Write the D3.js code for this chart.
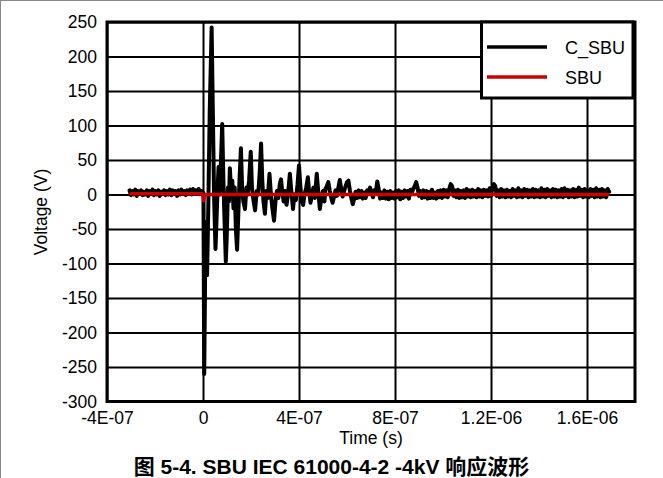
<!DOCTYPE html>
<html><head><meta charset="utf-8">
<script src="https://cdn.jsdelivr.net/npm/d3@7"></script>
<style>
body{margin:0;background:#fff}
text{font-family:"Liberation Sans",Arial,sans-serif;fill:#000}
</style>
</head><body>
<svg id="chart" width="663" height="478"></svg>
<script>
// ---- data ----
const seriesNames = ["C_SBU", "SBU"];
const seriesColors = ["#000000", "#cc0000"];
const xTicks = [-4e-7, 0, 4e-7, 8e-7, 1.2e-6, 1.6e-6];
const xTickLabels = ["-4E-07", "0", "4E-07", "8E-07", "1.2E-06", "1.6E-06"];
const yTicks = [250, 200, 150, 100, 50, 0, -50, -100, -150, -200, -250, -300];

// C_SBU waveform: time (ns) and voltage (V)
const cSbuTimeNs = [
  // pre-trigger
  -306,-300,-294,-288,-282,-276,-270,-264,-258,-252,
  -246,-240,-234,-228,-222,-216,-210,-204,-198,-192,
  -186,-180,-174,-168,-162,-156,-150,-144,-138,-132,
  -126,-120,-114,-108,-102,-96,-90,-84,-78,-72,
  -66,-60,-54,-48,-42,-36,-30,-24,-18,-12,
  -6,
  // discharge
  0,2,5,8,10,13,17,22,28,36,41,46,52,57,61,65,69,73,80,85,90,95,99,104,108,112,117,122,127,132,137,142,147,152,158,
  163,168,175,181,186,192,199,204,209,217,224,230,236,242,247,252,258,264,270,277,283,289,296,302,308,314,320,325,
  330,336,342,348,354,362,368,375,381,387,394,400,405,411,417,423,430,437,442,448,454,460,466,474,480,487,493,500,506,
  // tail
  510,516,522,528,534,540,546,552,558,564,
  570,576,582,588,594,600,606,612,618,624,
  630,636,642,648,654,660,666,672,678,684,
  690,696,702,708,714,720,726,732,738,744,
  750,756,762,768,774,780,786,792,798,804,
  810,816,822,828,834,840,846,852,858,864,
  870,876,882,888,894,900,906,912,918,924,
  930,936,942,948,954,960,966,972,978,984,
  990,996,1002,1008,1014,1020,1026,1032,1038,1044,
  1050,1056,1062,1068,1074,1080,1086,1092,1098,1104,
  1110,1116,1122,1128,1134,1140,1146,1152,1158,1164,
  1170,1176,1182,1188,1194,1200,1206,1212,1218,1224,
  1230,1236,1242,1248,1254,1260,1266,1272,1278,1284,
  1290,1296,1302,1308,1314,1320,1326,1332,1338,1344,
  1350,1356,1362,1368,1374,1380,1386,1392,1398,1404,
  1410,1416,1422,1428,1434,1440,1446,1452,1458,1464,
  1470,1476,1482,1488,1494,1500,1506,1512,1518,1524,
  1530,1536,1542,1548,1554,1560,1566,1572,1578,1584,
  1590,1596,1602,1608,1614,1620,1626,1632,1638,1644,
  1650,1656,1662,1668,1674,1680,1686,1692
];
const cSbuV = [
  // pre-trigger
  6,-1,5,0,7,-2,5,1,6,-1,
  4,0,6,-2,5,1,7,-1,5,0,
  6,-2,4,1,6,-1,5,0,7,-1,
  6,1,5,-2,6,0,7,1,5,-1,
  6,2,7,0,8,1,6,2,8,1,
  5,
  // discharge
  3,2,-260,-150,-40,-90,-117,-20,120,242,120,0,-79,-30,10,40,0,30,102,20,-40,-97,-60,10,-10,38,5,20,-20,10,-50,-80,-30,20,67,
  10,-10,-21,10,0,20,62,10,-5,-23,5,0,30,74,20,-10,-28,5,-5,30,0,-20,-38,-10,5,-5,15,22,
  5,-10,5,-15,0,30,5,-21,0,-8,15,42,15,-10,-15,0,10,25,5,-12,0,10,-5,30,5,-21,-5,5,-10,
  // tail
  8,12,18,6,-4,-12,-3,6,-2,10,
  21,8,-3,5,12,18,20,6,-5,-14,
  -6,4,-5,6,-4,5,-6,3,-5,6,
  4,10,3,-4,6,2,19,8,-6,3,
  -5,6,-6,4,-7,5,-5,3,-6,5,
  -4,6,-7,4,-5,6,-3,5,-6,7,
  3,8,12,18,10,-2,5,-5,6,-4,
  5,-6,4,-5,7,-5,3,-6,5,-4,
  6,-5,7,-3,6,-4,8,15,12,-2,
  6,-4,7,-5,5,-4,6,-5,8,-3,
  6,-4,7,-3,5,-4,8,-3,6,-4,
  7,-2,6,-3,9,-2,10,15,12,-2,
  6,-4,8,-3,6,-4,7,-3,5,-4,
  8,-2,6,-4,9,-3,6,-4,8,-2,
  7,-4,6,-3,8,-4,7,-3,6,-4,
  9,-3,7,-4,8,-2,6,-4,8,-3,
  7,-4,6,-3,8,-4,9,-2,7,-4,
  6,-3,8,-4,7,-3,10,-2,7,-4,
  8,-3,6,-4,8,-2,7,-4,9,-3,
  7,-4,8,-3,6,-4,8,4
];

// SBU waveform
const sbuTimeNs = [-306, -4, 1, 3, 6, 20, 1692];
const sbuV = [1, 1, -3, -9, -1, 0, 0];

// ---- chart ----
const svg = d3.select("#chart");
const L = 107, R = 635, T = 22, B = 401.5;
const x = d3.scaleLinear().domain([-4e-7, 1.8e-6]).range([L, R]);
const y = d3.scaleLinear().domain([-300, 250]).range([B, T]);
const FONT = "Liberation Sans, Arial, sans-serif";

// outer figure border (left/top)
svg.append("line").attr("x1",0.5).attr("y1",0).attr("x2",0.5).attr("y2",478).attr("stroke","#888").attr("stroke-width",1);
svg.append("line").attr("x1",0).attr("y1",0.5).attr("x2",663).attr("y2",0.5).attr("stroke","#888").attr("stroke-width",1);

// y axis with gridlines
const yAxis = svg.append("g").attr("transform", `translate(${L},0)`)
  .call(d3.axisLeft(y).tickValues(yTicks).tickSize(-(R - L)).tickPadding(10).tickFormat(d => String(d)));
yAxis.select(".domain").remove();
yAxis.selectAll("line").attr("stroke", "#000").attr("stroke-width", 2);
yAxis.selectAll("text").attr("font-size", 17.5).attr("font-family", FONT).attr("fill", "#000");

// x axis with gridlines
const xAxis = svg.append("g").attr("transform", `translate(0,${B})`)
  .call(d3.axisBottom(x).tickValues(xTicks).tickSize(-(B - T)).tickPadding(10).tickFormat((d, i) => xTickLabels[i]));
xAxis.select(".domain").remove();
xAxis.selectAll("line").attr("stroke", "#000").attr("stroke-width", 2);
xAxis.selectAll("text").attr("font-size", 17.5).attr("font-family", FONT).attr("fill", "#000");

// plot frame
svg.append("rect").attr("x", L).attr("y", T).attr("width", R - L).attr("height", B - T)
  .attr("fill", "none").attr("stroke", "#000").attr("stroke-width", 3);

const line = d3.line().x(d => x(d[0] * 1e-9)).y(d => y(d[1]));
const cData = cSbuTimeNs.map((t, i) => [t, cSbuV[i]]);
const sData = sbuTimeNs.map((t, i) => [t, sbuV[i]]);

svg.append("path").datum(cData).attr("d", line).attr("fill", "none")
  .attr("stroke", seriesColors[0]).attr("stroke-width", 4).attr("stroke-linejoin", "round").attr("stroke-linecap", "round");
svg.append("path").datum(sData).attr("d", line).attr("fill", "none")
  .attr("stroke", seriesColors[1]).attr("stroke-width", 3.5).attr("stroke-linejoin", "round");

// legend
const lg = svg.append("g");
lg.append("rect").attr("x", 481.5).attr("y", T).attr("width", R - 481.5 - 2).attr("height", 76)
  .attr("fill", "#fff").attr("stroke", "#000").attr("stroke-width", 3);
seriesNames.forEach((n, i) => {
  const yy = 47 + i * 30;
  lg.append("line").attr("x1", 487).attr("x2", 547).attr("y1", yy).attr("y2", yy)
    .attr("stroke", seriesColors[i]).attr("stroke-width", 3.5);
  lg.append("text").attr("x", 565).attr("y", yy + 6.5).attr("font-size", 18).attr("font-family", FONT).text(n);
});

// axis titles
svg.append("text").attr("x", (L + R) / 2).attr("y", 444).attr("text-anchor", "middle").attr("font-size", 17.5).attr("font-family", FONT).text("Time (s)");
svg.append("text").attr("transform", "translate(47,212) rotate(-90)").attr("text-anchor", "middle").attr("font-size", 17.5).attr("font-family", FONT).text("Voltage (V)");

// caption
svg.append("text").attr("x", 331.5).attr("y", 474).attr("text-anchor", "middle").attr("font-size", 21)
  .attr("font-weight", "bold").style("font-family", "'Liberation Sans', 'Noto Sans CJK SC', sans-serif")
  .text("图 5-4. SBU IEC 61000-4-2 -4kV 响应波形");
</script>
</body></html>
